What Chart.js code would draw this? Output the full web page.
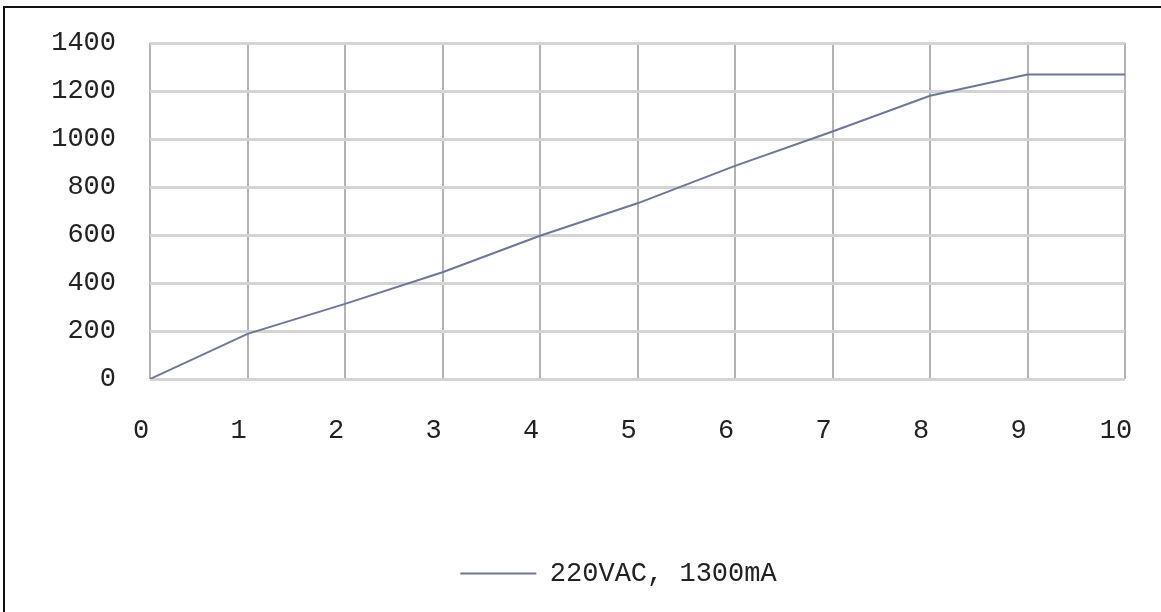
<!DOCTYPE html>
<html>
<head>
<meta charset="utf-8">
<script src="https://cdn.jsdelivr.net/npm/chart.js@4/dist/chart.umd.min.js"></script>
<style>
  html, body { margin: 0; padding: 0; background: #fff; }
  #marco { position: absolute; left: 3px; top: 6px; width: 1158px; height: 606px;
           border-left: 2px solid #111; border-top: 2px solid #111; }
  #wrap { position: absolute; left: 0; top: 0; width: 1161px; height: 612px; }
</style>
</head>
<body>
<div id="marco"></div>
<div id="wrap"><canvas id="myChart"></canvas></div>
<script>
const horas = [0, 1, 2, 3, 4, 5, 6, 7, 8, 9, 10];
const corriente = [0, 188, 313, 445, 597, 732, 888, 1031, 1180, 1269, 1269];
const nombreSerie = "220VAC, 1300mA";
const ticksY = [0, 200, 400, 600, 800, 1000, 1200, 1400];

// mueve la leyenda un poco a la derecha, como en la imagen
const moverLeyenda = {
    id: 'moverLeyenda',
    afterLayout(chart){
        if(chart.legend){
            chart.legend.left += 56;
            chart.legend.right += 56;
        }
    }
};

function graficar(){
    const puntos = horas.map((h, i) => ({x: h, y: corriente[i]}));
    const ctx = document.getElementById('myChart').getContext('2d');
    const myChart = new Chart(ctx, {
        type: 'line',
        data: {
            datasets: [{
                label: nombreSerie,
                data: puntos,
                borderColor: '#6f7797',
                backgroundColor: '#6f7797',
                borderWidth: 2,
                pointRadius: 0,
                tension: 0
            }]
        },
        plugins: [moverLeyenda],
        options: {
            responsive: true,
            maintainAspectRatio: false,
            animation: false,
            layout: { padding: { left: 0, top: 43, right: 36, bottom: 15 } },
            scales: {
                x: {
                    type: 'linear',
                    min: 0,
                    max: 10,
                    border: { display: false },
                    grid: { color: '#b3b3b3', lineWidth: 2, drawTicks: false },
                    ticks: {
                        stepSize: 1,
                        padding: 36,
                        labelOffset: -9,
                        color: '#222',
                        font: { family: 'Liberation Mono', size: 27 },
                        callback: (v) => String(v)
                    },
                    afterFit: (s) => { s.height = 171; s.paddingLeft = 0; s.paddingRight = 0; }
                },
                y: {
                    min: 0,
                    max: 1400,
                    border: { display: false },
                    grid: { color: '#d4d4d4', lineWidth: 3, drawTicks: false },
                    afterBuildTicks: (s) => { s.ticks = ticksY.map(v => ({value: v})); },
                    ticks: {
                        padding: 34,
                        color: '#222',
                        font: { family: 'Liberation Mono', size: 27 },
                        callback: (v) => String(v)
                    },
                    afterFit: (s) => { s.width = 150; s.paddingTop = 0; s.paddingBottom = 0; }
                }
            },
            plugins: {
                legend: {
                    display: true,
                    position: 'bottom',
                    labels: {
                        usePointStyle: true,
                        pointStyle: 'line',
                        pointStyleWidth: 76,
                        padding: 10,
                        color: '#222',
                        font: { family: 'Liberation Mono', size: 27 }
                    }
                },
                tooltip: { enabled: false }
            }
        }
    });
}

window.addEventListener("load", graficar);
</script>
</body>
</html>
